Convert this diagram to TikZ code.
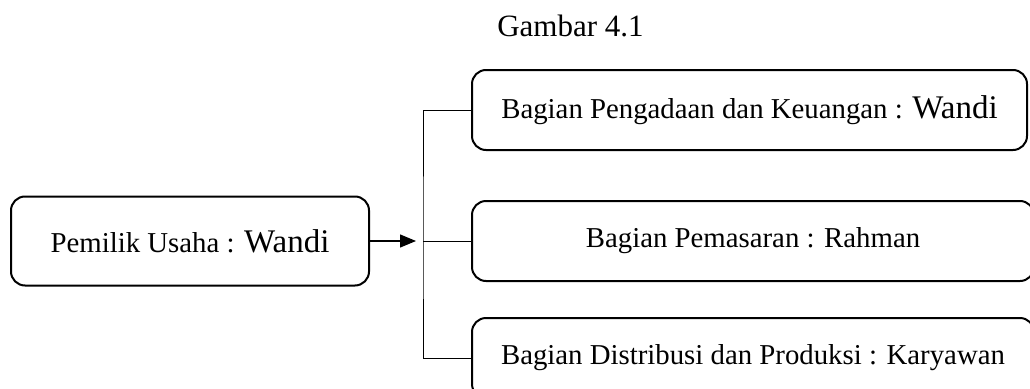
\documentclass[tikz,border=0pt]{standalone}
\usepackage{fontspec}
\setmainfont{Liberation Serif}
\usetikzlibrary{arrows.meta, positioning}
\def \Wandi {{\fontsize{33}{40}\selectfont Wandi}}

\begin{document}
\begin{tikzpicture}[
    x=1pt, y=-1pt,
    unit/.style={
        rectangle,
        draw=black,
        line width=2pt,
        minimum width=#1,
        minimum height=80pt,
        align=center,
        rounded corners=14pt,
        inner sep=0pt,
        font=\fontsize{28.8}{34}\selectfont
    },
    link/.style={
        draw=black,
        line width=1pt
    },
    arrow/.style={
        -{Triangle[length=16pt,width=13pt]},
        line width=1.3pt
    }
]
\useasboundingbox (0,0) rectangle (1030,388);
\clip (0,0) rectangle (1030,388);

% Title
\node[font=\fontsize{31}{36}\selectfont, anchor=base] (title) at (570.5,36) {Gambar 4.1};

% Owner
\node[unit=358pt, minimum height=89pt] (pemilik) at (190,241) {Pemilik Usaha : \Wandi};

% Divisions
\node[unit=555pt] (pengadaan) at (749.5,110) {Bagian Pengadaan dan Keuangan : \Wandi};
\node[unit=562pt] (pemasaran) at (753,241) {Bagian Pemasaran : Rahman};
\node[unit=562pt] (distribusi) at (753,358) {Bagian Distribusi dan Produksi : Karyawan};

% Connectors
\coordinate (bus) at (423,241);
\draw[arrow, shorten >=7pt] (pemilik.east) -- (bus);
\draw[link] (pengadaan.west) -| (bus) |- (distribusi.west);
\draw[link] (bus) -- (pemasaran.west);

\end{tikzpicture}
\end{document}
